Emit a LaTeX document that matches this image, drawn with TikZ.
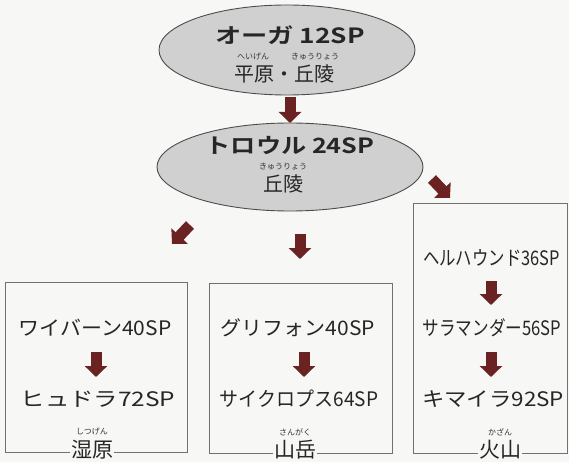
\documentclass[tikz,border=0pt]{standalone}
\usepackage{fontspec}
\usetikzlibrary{shapes.geometric,arrows.meta}
\newfontfamily\jp{Noto Sans CJK JP}
\newfontfamily\jpb{Noto Sans CJK JP Bold}
\definecolor{bg}{HTML}{F7F7F5}
\definecolor{arr}{HTML}{6A2222}
\definecolor{ell}{HTML}{D0D0D0}
\definecolor{ln}{HTML}{707070}
\newcommand\hs[2]{\scalebox{#1}[1]{#2}}
\tikzset{
  ellnode/.style={ellipse,draw=black!70,line width=0.9pt,fill=ell,inner sep=0pt},
  title/.style={font=\jpb\fontsize{21}{21}\selectfont,inner sep=0pt,text=black!85},
  kanji/.style={font=\jp\fontsize{20}{20}\selectfont,inner sep=0pt,text=black!85},
  ruby/.style={font=\jp\fontsize{8}{8}\selectfont,inner sep=0pt,text=black!80},
  mon/.style={font=\jp\fontsize{20}{20}\selectfont,inner sep=0pt,text=black!85},
  lab/.style={font=\jp\fontsize{21}{21}\selectfont,inner sep=1pt,fill=bg,text=black!85},
  boxline/.style={draw=ln,line width=0.8pt},
  blk/.style={arr,line width=11pt,-{Triangle[width=22pt,length=11pt]}}
}
\begin{document}
\begin{tikzpicture}[x=1pt,y=-1pt]
\fill[bg] (0,0) rectangle (569,462);
\useasboundingbox (0,0) rectangle (569,462);
% ellipses
\node[ellnode,minimum width=256pt,minimum height=90pt] (e1) at (287,50) {};
\node[title] (t1) at (290,35) {\hs{1.25}{オーガ 12SP}};
\node[ruby] (r1a) at (253,57) {へいげん};
\node[ruby] (r1b) at (315,57) {きゅうりょう};
\node[kanji] (k1) at (284,74) {平原・丘陵};
\node[ellnode,minimum width=266pt,minimum height=88pt] (e2) at (290,167) {};
\node[title] (t2) at (290,146) {\hs{1.2}{トロウル 24SP}};
\node[ruby] (r2) at (283,167) {きゅうりょう};
\node[kanji] (k2) at (283,184) {丘陵};
% boxes
\draw[boxline] (5,282) rectangle (187,452);
\draw[boxline] (209,283) rectangle (392,453);
\draw[boxline] (413,203) rectangle (567,453);
% box 1
\node[mon] (m11) at (95,328) {\hs{1.05}{ワイバーン40SP}};
\node[mon] (m12) at (98,399) {\hs{1.22}{ヒュドラ72SP}};
% box 2
\node[mon] (m21) at (298,328) {\hs{1.05}{グリフォン40SP}};
\node[mon] (m22) at (299,399) {\hs{0.95}{サイクロプス64SP}};
% box 3
\node[mon] (m31) at (491.5,258) {\hs{0.82}{ヘルハウンド36SP}};
\node[mon] (m32) at (492,328) {\hs{0.83}{サラマンダー56SP}};
\node[mon] (m33) at (493,399) {\hs{1.12}{キマイラ92SP}};
% labels
\node[ruby] (rl1) at (92,432) {しつげん};
\node[lab] (l1) at (92,450) {湿原};
\node[ruby] (rl2) at (295,432) {さんがく};
\node[lab] (l2) at (295,450) {山岳};
\node[ruby] (rl3) at (500,432) {かざん};
\node[lab] (l3) at (500,450) {火山};
% arrows
\coordinate (a1s) at (290,97);  \coordinate (a1e) at (290,123);
\coordinate (a2s) at (300,234); \coordinate (a2e) at (300,259);
\coordinate (a3s) at (190,225); \coordinate (a3e) at (172,244);
\coordinate (a4s) at (432,179); \coordinate (a4e) at (450,198);
\coordinate (b1s) at (96,352);  \coordinate (b1e) at (96,377);
\coordinate (b2s) at (304,352); \coordinate (b2e) at (304,377);
\coordinate (b3s) at (491,281); \coordinate (b3e) at (491,305);
\coordinate (b4s) at (491,352); \coordinate (b4e) at (491,377);
\foreach \a in {a1,a2,a3,a4,b1,b2,b3,b4}{\draw[blk] (\a s) -- (\a e);}
\end{tikzpicture}
\end{document}
